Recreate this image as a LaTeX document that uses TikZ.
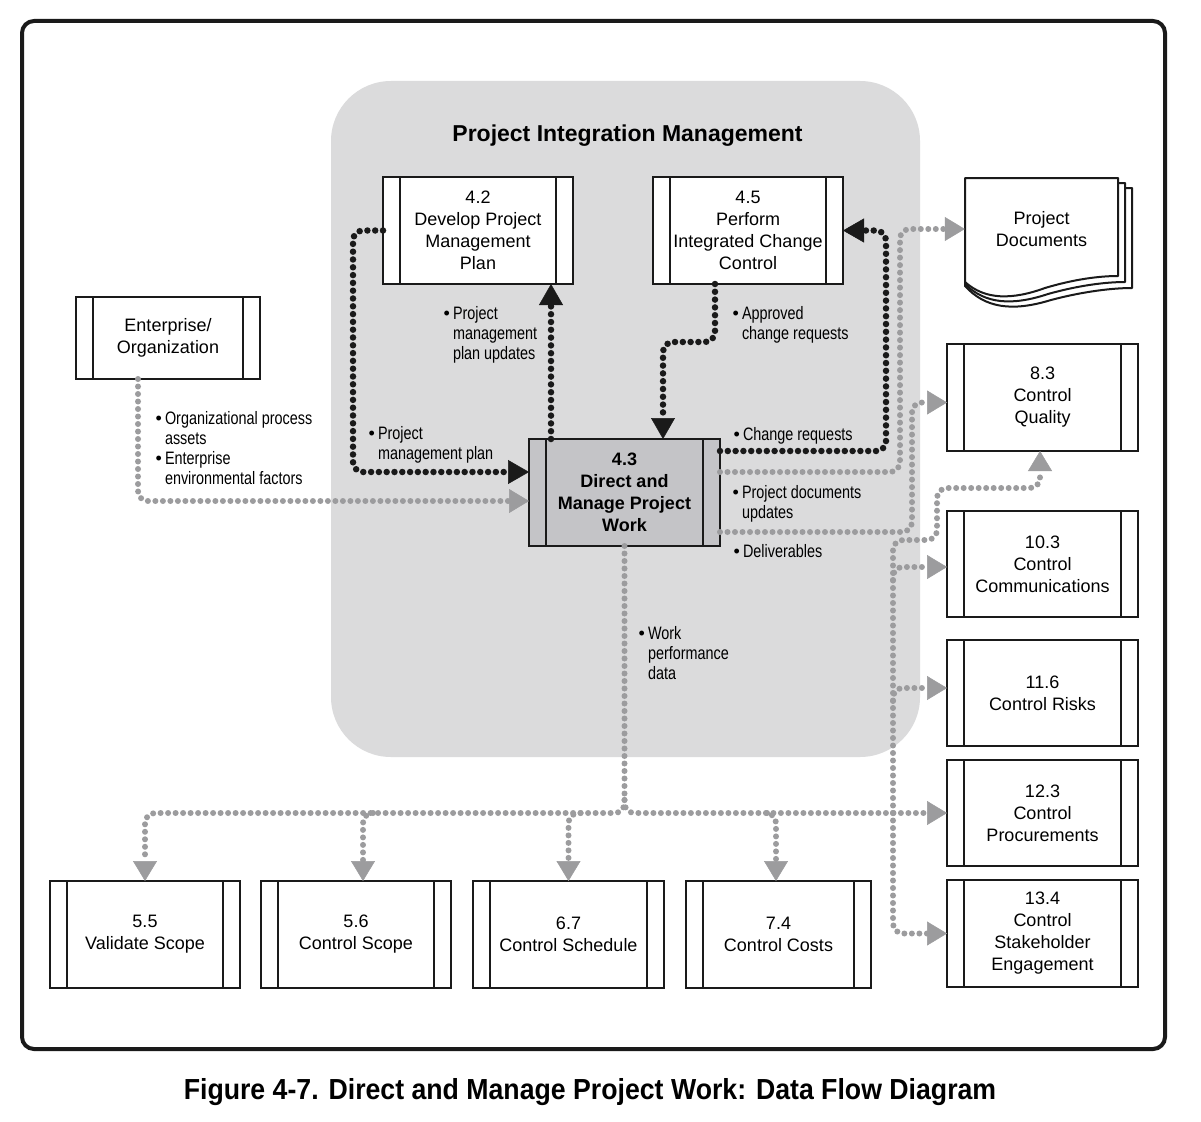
\documentclass[tikz,border=0pt]{standalone}
\usepackage{fontspec}
\setmainfont{Liberation Sans}
\newfontfamily\condfont{Liberation Sans}[FakeStretch=0.8]
\newfontfamily\capfont{Liberation Sans}[FakeStretch=0.92]
\newfontfamily\bulfont{Liberation Sans}
\usetikzlibrary{arrows.meta,calc}
\newcommand\bul{\llap{{\bulfont\textbullet}\hspace{3pt}}}

\definecolor{panelgray}{HTML}{DBDBDC}
\definecolor{procgray}{HTML}{C4C4C7}
\definecolor{flowgray}{HTML}{9C9C9E}
\definecolor{ink}{HTML}{1A1A1A}

\tikzset{
 proc/.style={draw=ink, line width=2.8pt, fill=white, inner sep=0pt, outer sep=0pt, align=center, font=\fontsize{18}{22}\selectfont},
 divider/.style={draw=ink, line width=2.4pt},
 lab/.style={anchor=north west, inner sep=0pt, outer sep=0pt, align=left, font=\condfont\fontsize{18}{20}\selectfont},
 grayflow/.style={draw=flowgray, line width=6pt, line cap=round, dash pattern=on 0pt off 7.5pt, rounded corners=10pt, -{Triangle[length=20pt,width=24pt,line width=0.5pt]}},
 blackflow/.style={draw=ink, line width=6.5pt, line cap=round, dash pattern=on 0pt off 7.8pt, rounded corners=10pt, -{Triangle[length=21pt,width=24pt,line width=0.5pt]}},
 grayline/.style={draw=flowgray, line width=6pt, line cap=round, dash pattern=on 0pt off 7.5pt},
}

\newcommand\procbox[7][white]{%
  \node[proc, fill=#1, minimum width={(#5-#3)*1pt}, minimum height={(#6-#4)*1pt}] (#2) at ({(#3+#5)/2},{(#4+#6)/2}) {#7};
  \draw[divider] ([xshift=17pt]#2.north west) -- ([xshift=17pt]#2.south west);
  \draw[divider] ([xshift=-17pt]#2.north east) -- ([xshift=-17pt]#2.south east);
}

\begin{document}
\begin{tikzpicture}[x=1pt,y=-1pt]
\useasboundingbox (0,0) rectangle (1201,1121);
\fill[white] (0,0) rectangle (1201,1121);
\draw[ink, line width=4pt, rounded corners=12pt] (22,21) rectangle (1165,1049);
\fill[panelgray, rounded corners=60pt] (331,81) rectangle (920,757);
\node[font=\bfseries\fontsize{23}{26}\selectfont, anchor=base] (title) at (627.5,141) {Project Integration Management};

% process boxes
\procbox{Ent}{76}{297}{260}{379}{Enterprise/\\Organization}
\procbox{P42}{383}{177}{573}{284}{4.2\\Develop Project\\Management\\Plan}
\procbox{P45}{653}{177}{843}{284}{4.5\\Perform\\Integrated Change\\Control}
\procbox[procgray]{P43}{529}{439}{720}{546}{\bfseries 4.3\\\bfseries Direct and\\\bfseries Manage Project\\\bfseries Work}
\procbox{CQ}{947}{344}{1138}{451}{8.3\\Control\\Quality}
\procbox{CC}{947}{511}{1138}{617}{10.3\\Control\\Communications}
\procbox{CR}{947}{640}{1138}{746}{11.6\\Control Risks}
\procbox{CP}{947}{760}{1138}{866}{12.3\\Control\\Procurements}
\procbox{CS}{947}{880}{1138}{987}{13.4\\Control\\Stakeholder\\Engagement}
\procbox{VS}{50}{881}{240}{988}{5.5\\Validate Scope}
\procbox{CSc}{261}{881}{451}{988}{5.6\\Control Scope}
\procbox{CSch}{473}{881}{664}{988}{6.7\\Control Schedule}
\procbox{CCo}{686}{881}{871}{988}{7.4\\Control Costs}

% project documents (stacked pages)
\foreach \k in {2,1,0} {
  \filldraw[fill=white, draw=ink, line width=2pt, line join=round]
    (965,{178+5*\k}) -- ({1118+7*\k},{178+5*\k}) -- ({1118+7*\k},{276+6*\k})
    .. controls ({1100+7*\k},{276+6*\k}) and ({1075+5*\k},{279+6*\k}) .. ({1045+3*\k},{288+6*\k})
    .. controls (1012,{300+6*\k}) and (985,{300+4*\k}) .. (965,{282+2*\k}) -- cycle;
}
\node[minimum width=153pt, minimum height=104pt, inner sep=0pt, align=center, font=\fontsize{18}{22}\selectfont] (PD) at (1041.5,229) {Project\\Documents};

% flows into and out of 4.3
\draw[grayflow] ($(Ent.south west)+(62,0)$) |- ($(P43.west)+(0,8.5)$);
\draw[blackflow] (P42.west) -- ++(-30,0) |- ($(P43.west)+(0,-20.5)$);
\draw[blackflow] ($(P43.north west)+(22,0)$) -- ($(P42.south east)+(-22,0)$);
\draw[blackflow] ($(P45.south west)+(62,0)$) -- ++(0,58) -| ($(P43.north west)+(134,0)$);
\draw[blackflow] ($(P43.north east)+(0,12)$) -- ++(166,0) |- (P45.east);
\draw[grayflow] ($(P43.north east)+(0,33)$) -- ++(180,0) |- (PD.west);
\draw[grayflow] ($(P43.north east)+(0,93)$) -- ++(192,0) |- ($(CQ.west)+(0,5)$);

% work performance data
\coordinate (J) at ($(P43.south)+(0,254)$);
\draw[grayline] (P43.south) -- (J);
\draw[grayflow] (J) |- ($(VS.north)+(0,-68)$) -- (VS.north);
\draw[grayflow] (J) |- (CP.west);
\draw[grayflow] ($(CSc.north)+(17,-68)$) -| ($(CSc.north)+(7,0)$);
\draw[grayflow] ($(CSch.north)+(12,-68)$) -| (CSch.north);
\draw[grayflow] ($(CCo.north)+(-11.5,-68)$) -| ($(CCo.north)+(-2.5,0)$);
\coordinate (K) at ($(CP.west)+(-54,0)$);
\draw[grayflow] (K) |- ($(CQ.south)+(-105.5,89)$) |- ($(CQ.south)+(-2.5,37)$) -- ($(CQ.south)+(-2.5,0)$);
\draw[grayflow] ($(CC.west)+(-54,16)$) |- ($(CC.west)+(0,3)$);
\draw[grayflow] ($(CR.west)+(-54,8)$) |- ($(CR.west)+(0,-5)$);
\draw[grayflow] (K) |- (CS.west);

% labels
\node[lab] (l1) at (165,410) {\bul\strut Organizational process\\assets\\\bul Enterprise\\environmental factors};
\node[lab] (l2) at (378,425) {\bul\strut Project\\management plan};
\node[lab] (l3) at (453,305) {\bul\strut Project\\management\\plan updates};
\node[lab] (l4) at (742,305) {\bul\strut Approved\\change requests};
\node[lab] (l5) at (743,426) {\bul\strut Change requests};
\node[lab] (l6) at (742,484) {\bul\strut Project documents\\updates};
\node[lab] (l7) at (743,543) {\bul\strut Deliverables};
\node[lab] (l8) at (648,625) {\bul\strut Work\\performance\\data};

\node[font=\capfont\bfseries\fontsize{29}{32}\selectfont, anchor=base] (cap) at (590,1099) {Figure 4-7. Direct and Manage Project Work: Data Flow Diagram};
\end{tikzpicture}
\end{document}
